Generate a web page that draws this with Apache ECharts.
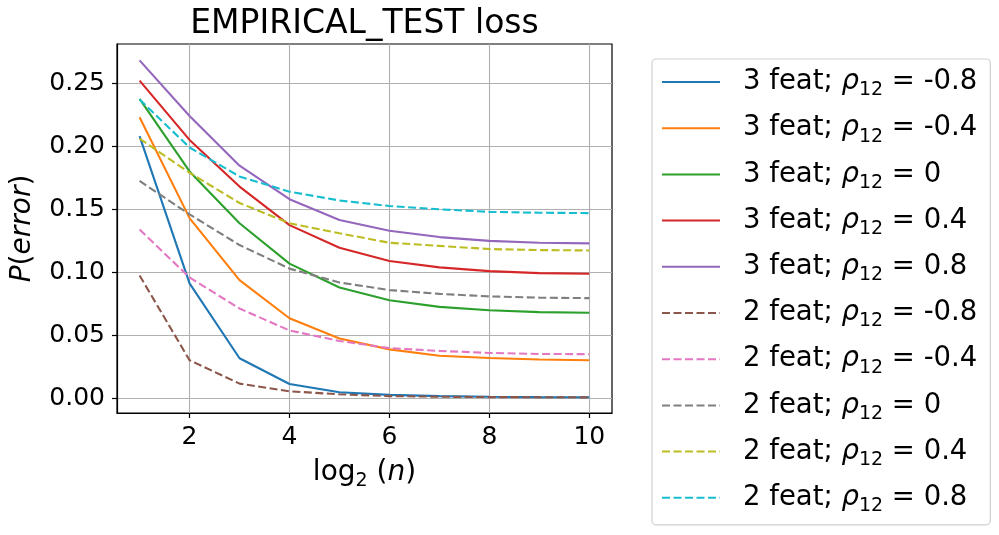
<!DOCTYPE html>
<html>
<head>
<meta charset="utf-8">
<script src="https://cdn.jsdelivr.net/npm/echarts@6/dist/echarts.min.js"></script>
<style>
  html, body { margin: 0; padding: 0; background: #fff; }
  #chart { width: 999px; height: 535px; }
</style>
</head>
<body>
<div id="chart"></div>
<script>
// log2(n)
var xValues = [1, 2, 3, 4, 5, 6, 7, 8, 9, 10];
var xTicks = [2, 4, 6, 8, 10];
var yTicks = [0, 0.05, 0.10, 0.15, 0.20, 0.25];

// 3 features
var feat3_m08 = [0.208, 0.0913, 0.032, 0.0116, 0.005, 0.003, 0.002, 0.0015, 0.0012, 0.0011];
var feat3_m04 = [0.223, 0.143, 0.0939, 0.0637, 0.0476, 0.039, 0.034, 0.0322, 0.031, 0.0304];
var feat3_0   = [0.2375, 0.180, 0.139, 0.107, 0.088, 0.078, 0.0727, 0.070, 0.0685, 0.068];
var feat3_p04 = [0.252, 0.205, 0.168, 0.1375, 0.1195, 0.109, 0.104, 0.101, 0.0994, 0.0989];
var feat3_p08 = [0.268, 0.224, 0.1846, 0.158, 0.1415, 0.133, 0.128, 0.125, 0.1235, 0.123];
// 2 features
var feat2_m08 = [0.0976, 0.0304, 0.0119, 0.0058, 0.0034, 0.002, 0.0015, 0.0012, 0.0011, 0.001];
var feat2_m04 = [0.134, 0.096, 0.0714, 0.054, 0.0457, 0.040, 0.0378, 0.0362, 0.0354, 0.0352];
var feat2_0   = [0.1725, 0.146, 0.1217, 0.103, 0.092, 0.086, 0.083, 0.081, 0.080, 0.0796];
var feat2_p04 = [0.206, 0.179, 0.155, 0.139, 0.131, 0.1235, 0.121, 0.1185, 0.1177, 0.1174];
var feat2_p08 = [0.237, 0.199, 0.176, 0.164, 0.157, 0.1526, 0.150, 0.148, 0.1473, 0.147];

var seriesFeats = [3, 3, 3, 3, 3, 2, 2, 2, 2, 2];
var seriesRhos = ['-0.8', '-0.4', '0', '0.4', '0.8', '-0.8', '-0.4', '0', '0.4', '0.8'];
var seriesData = [feat3_m08, feat3_m04, feat3_0, feat3_p04, feat3_p08,
                  feat2_m08, feat2_m04, feat2_0, feat2_p04, feat2_p08];
var colors = ['#1f77b4', '#ff7f0e', '#2ca02c', '#d62728', '#9467bd',
              '#8c564b', '#e377c2', '#7f7f7f', '#bcbd22', '#17becf'];

var font = 'DejaVu Sans';
var legendRich = {
    sp: { width: 18, fontSize: 27, fontFamily: font },
    t: { fontSize: 27.5, fontFamily: font, color: '#000', lineHeight: 36 },
    i: { fontSize: 27.5, fontFamily: font, fontStyle: 'italic', color: '#000', lineHeight: 36 },
    s: { fontSize: 19, fontFamily: font, color: '#000', verticalAlign: 'bottom', lineHeight: 17 }
};

var series = seriesData.map(function (vals, i) {
    return {
        name: seriesFeats[i] + ' feat; rho12 = ' + seriesRhos[i],
        type: 'line',
        showSymbol: false,
        symbol: 'none',
        silent: true,
        color: colors[i],
        lineStyle: {
            width: 2.1,
            color: colors[i],
            type: seriesFeats[i] === 2 ? [8, 3.5] : 'solid'
        },
        data: vals.map(function (v, j) { return [xValues[j], v]; })
    };
});

var chart = echarts.init(document.getElementById('chart'));
chart.setOption({
    animation: false,
    backgroundColor: '#fff',
    graphic: [{
        type: 'text',
        x: 364.5,
        y: 8,
        style: {
            text: 'EMPIRICAL_TEST loss',
            align: 'center',
            font: '33px "DejaVu Sans"',
            fill: '#000'
        }
    }],
    grid: {
        left: 117, right: 387, top: 44, bottom: 122,
        show: true,
        borderColor: '#000',
        borderWidth: 1.2,
        outerBoundsMode: 'none'
    },
    legend: {
        orient: 'vertical',
        left: 652,
        top: 59,
        padding: [9, 13, 9, 9],
        itemWidth: 58,
        itemHeight: 14,
        itemGap: 14.2,
        selectedMode: false,
        borderColor: '#d0d0d0',
        borderWidth: 1.2,
        borderRadius: 4,
        backgroundColor: '#fff',
        itemStyle: { color: 'rgba(0,0,0,0)', borderWidth: 0, opacity: 0 },
        textStyle: { rich: legendRich, fontSize: 27.5, fontFamily: font },
        formatter: function (name) {
            var i = series.findIndex(function (s) { return s.name === name; });
            return '{sp| }{t|' + seriesFeats[i] + ' feat; }{i|ρ}{s|12}{t| = ' + seriesRhos[i] + '}';
        }
    },
    xAxis: {
        type: 'value',
        min: 0.548,
        max: 10.454,
        name: '{t|log}{s|2}{t| (}{i|n}{t|)}',
        nameLocation: 'middle',
        nameGap: 42,
        nameTextStyle: {
            rich: {
                t: { fontSize: 28, fontFamily: font, color: '#000', lineHeight: 36 },
                i: { fontSize: 28, fontFamily: font, fontStyle: 'italic', color: '#000', lineHeight: 36 },
                s: { fontSize: 19, fontFamily: font, color: '#000', verticalAlign: 'bottom', lineHeight: 17 }
            }
        },
        axisLine: { show: true, onZero: false, lineStyle: { color: '#000', width: 1.2 } },
        axisTick: { show: true, customValues: xTicks, length: 5, lineStyle: { color: '#000', width: 1.2 } },
        axisLabel: { customValues: xTicks, fontSize: 25, fontFamily: font, color: '#000', margin: 12 },
        splitLine: { show: true, lineStyle: { color: '#b0b0b0', width: 1.1 } }
    },
    yAxis: {
        type: 'value',
        min: -0.0114,
        max: 0.281,
        name: '{i|P}{t|(}{i|error}{t|)}',
        nameLocation: 'middle',
        nameRotate: 90,
        nameGap: 80,
        nameTextStyle: {
            rich: {
                t: { fontSize: 28, fontFamily: font, color: '#000' },
                i: { fontSize: 28, fontFamily: font, fontStyle: 'italic', color: '#000' }
            }
        },
        axisLine: { show: true, onZero: false, lineStyle: { color: '#000', width: 1.2 } },
        axisTick: { show: true, customValues: yTicks, length: 5, lineStyle: { color: '#000', width: 1.2 } },
        axisLabel: {
            customValues: yTicks,
            fontSize: 25, fontFamily: font, color: '#000', margin: 12,
            formatter: function (v) { return v.toFixed(2); }
        },
        splitLine: { show: true, lineStyle: { color: '#b0b0b0', width: 1.1 } }
    },
    series: series
});
</script>
</body>
</html>
